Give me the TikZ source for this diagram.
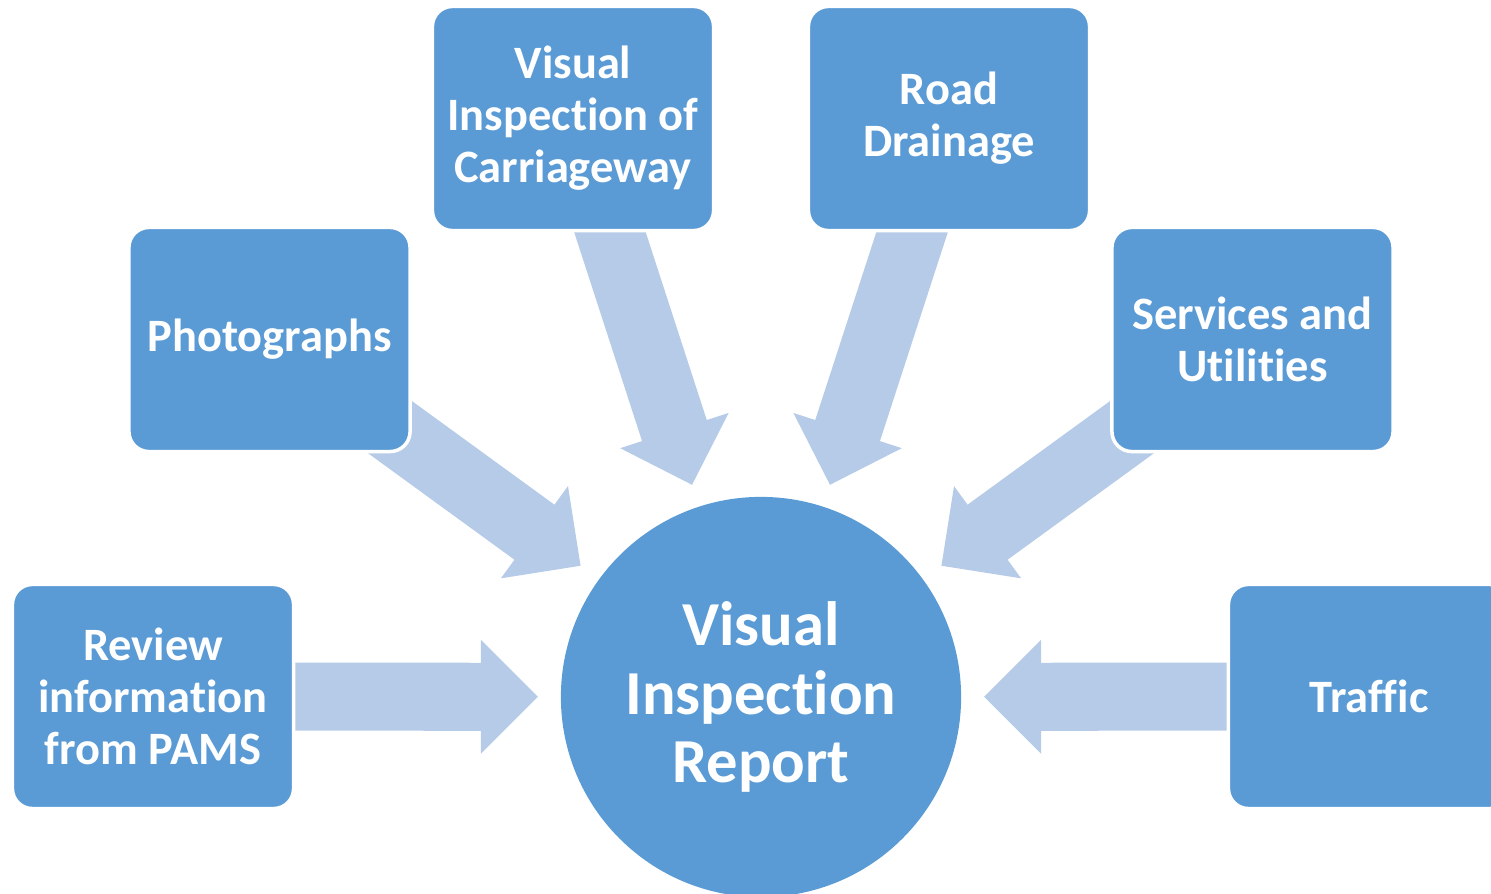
\documentclass[tikz,border=0pt]{standalone}
\usepackage{fontspec}
\setmainfont{Carlito}
\usetikzlibrary{calc,backgrounds}

\definecolor{boxblue}{HTML}{5B9BD5}
\definecolor{arrowblue}{HTML}{B6CBE8}

% keeps letters apart (no ti / ffi ligatures)
\newcommand{\tI}{t\kern0pt i}
\newcommand{\fI}{f\kern0pt f\kern0pt i}

\tikzset{
  box/.style={draw=white, line width=1pt, fill=boxblue, rounded corners=0.2cm,
    minimum width=2.81cm, minimum height=2.24cm, inner sep=0pt,
    text=white, align=center, font=\bfseries\fontsize{13.2}{14.8}\selectfont},
  report/.style={circle, fill=boxblue, minimum size=4cm, inner sep=0pt,
    text=white, align=center, font=\bfseries\fontsize{17.8}{19.6}\selectfont},
  flow/.style={fill=arrowblue}
}

% block arrow from box #1 towards the report #2
\newcommand{\flowarrow}[2]{%
  \coordinate (t) at ($(#1.center)!1cm!(#2.center)$);
  \coordinate (h) at ($(#2.center)!2.23cm!(#1.center)$);
  \coordinate (b) at ($(h)!0.57cm!(t)$);
  \fill[flow] ($(t)!0.34cm!90:(h)$) -- ($(b)!0.34cm!90:(h)$)
    -- ($(b)!0.57cm!90:(h)$) -- (h) -- ($(b)!0.57cm!-90:(h)$)
    -- ($(b)!0.34cm!-90:(h)$) -- ($(t)!0.34cm!-90:(h)$) -- cycle;
}

\begin{document}
\begin{tikzpicture}[x=0.01cm, y=-0.01cm]
\useasboundingbox (0,0) rectangle (1491,894);

\node[report] (rep) at (761,697) {Visual\\Inspec\tI on\\Report};

\node[box] (pams) at (153,696.5) {Review\\informa\tI on\\from PAMS};
\node[box] (photo) at (269.5,339.5) {Photographs};
\node[box] (carr) at (573,118.5) {Visual\\Inspec\tI on of\\Carriageway};
\node[box] (drain) at (949,118.5) {Road\\Drainage};
\node[box] (serv) at (1252.5,339.5) {Services and\\U\tI li\tI es};
\node[box] (traf) at (1369,696.5) {Tra\fI c};

\begin{scope}[on background layer]
  \foreach \src in {pams,photo,carr,drain,serv,traf}
    {\flowarrow{\src}{rep}}
\end{scope}

\end{tikzpicture}
\end{document}
